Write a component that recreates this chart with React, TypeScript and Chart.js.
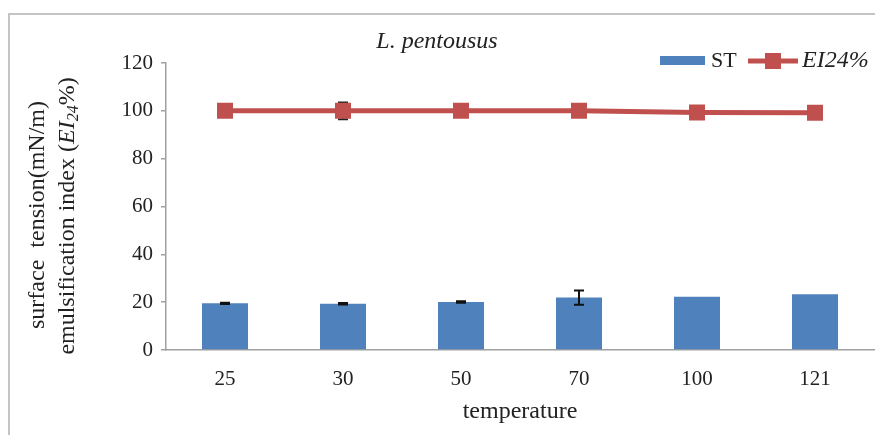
import React, { useEffect, useRef } from 'react';
import { Chart, registerables } from 'chart.js';

Chart.register(...registerables);

const categories = ['25', '30', '50', '70', '100', '121'];
const stValues = [19.5, 19.3, 20.1, 21.9, 22.3, 23.3];
const stErrors = [0.3, 0.3, 0.3, 3.0, 0, 0];
const eiValues = [100, 100, 100, 100, 99.3, 99.2];
const eiErrors = [0, 3.5, 0, 0, 0, 0];
const yMin = 0;
const yMax = 120;
const yStep = 20;

const titleText = 'L. pentousus';
const xTitle = 'temperature';
const yTitleLine1 = 'surface  tension(mN/m)';
const yTitleLine2 = ['emulsification index (', 'EI', '24', '%)'];
const legendST = 'ST';
const legendEI = 'EI24%';

const BLUE = '#4F81BD';
const RED = '#C0504D';
const SERIF = '"Liberation Serif", "Times New Roman", serif';

function drawErr(ctx: any, y: any, x: number, v: number, e: number) {
  if (!e) return;
  const yt = y.getPixelForValue(v + e);
  const yb = y.getPixelForValue(v - e);
  ctx.beginPath();
  ctx.moveTo(x, yt);
  ctx.lineTo(x, yb);
  ctx.moveTo(x - 5, yt);
  ctx.lineTo(x + 5, yt);
  ctx.moveTo(x - 5, yb);
  ctx.lineTo(x + 5, yb);
  ctx.stroke();
}

const decorPlugin = {
  id: 'decor',
  beforeDraw(chart: any) {
    const ctx = chart.ctx;
    ctx.save();
    ctx.fillStyle = '#ffffff';
    ctx.fillRect(0, 0, chart.width, chart.height);
    ctx.strokeStyle = '#c4c4c4';
    ctx.lineWidth = 2;
    ctx.beginPath();
    ctx.moveTo(9, chart.height + 5);
    ctx.lineTo(9, 14);
    ctx.lineTo(chart.width + 5, 14);
    ctx.stroke();
    ctx.restore();
  },
  beforeDatasetDraw(chart: any, args: any) {
    if (args.index !== 0) return;
    const ctx = chart.ctx;
    const y = chart.scales.y;
    ctx.save();
    ctx.strokeStyle = '#222';
    ctx.lineWidth = 2;
    chart.getDatasetMeta(0).data.forEach((el: any, i: number) =>
      drawErr(ctx, y, el.x, eiValues[i], eiErrors[i])
    );
    ctx.restore();
  },
  afterDatasetDraw(chart: any, args: any) {
    if (args.index !== 1) return;
    const ctx = chart.ctx;
    const y = chart.scales.y;
    ctx.save();
    ctx.strokeStyle = '#111';
    ctx.lineWidth = 2;
    chart.getDatasetMeta(1).data.forEach((el: any, i: number) =>
      drawErr(ctx, y, el.x, stValues[i], stErrors[i])
    );
    ctx.restore();
  },
  afterDraw(chart: any) {
    const ctx = chart.ctx;
    ctx.save();
    ctx.fillStyle = '#222';
    // title
    ctx.font = `italic 24px ${SERIF}`;
    ctx.textAlign = 'center';
    ctx.textBaseline = 'middle';
    ctx.fillText(titleText, 437, 42);

    // legend
    ctx.fillStyle = BLUE;
    ctx.fillRect(660, 56, 45, 9);
    ctx.fillStyle = '#222';
    ctx.font = `22px ${SERIF}`;
    ctx.textAlign = 'left';
    ctx.fillText(legendST, 711, 61);
    ctx.strokeStyle = RED;
    ctx.lineWidth = 5;
    ctx.beginPath();
    ctx.moveTo(748, 61);
    ctx.lineTo(798, 61);
    ctx.stroke();
    ctx.fillStyle = RED;
    ctx.fillRect(765, 53, 16, 16);
    ctx.fillStyle = '#222';
    ctx.font = `italic 24px ${SERIF}`;
    ctx.fillText(legendEI, 802, 61);

    // y title (rotated)
    ctx.save();
    ctx.translate(38, 215);
    ctx.rotate(-Math.PI / 2);
    ctx.font = `24px ${SERIF}`;
    ctx.textAlign = 'center';
    ctx.fillText(yTitleLine1, 0, 0);
    ctx.restore();

    ctx.save();
    ctx.translate(68, 216);
    ctx.rotate(-Math.PI / 2);
    const fN = `24px ${SERIF}`;
    const fI = `italic 24px ${SERIF}`;
    const fS = `italic 16px ${SERIF}`;
    ctx.textAlign = 'left';
    ctx.font = fN;
    const w0 = ctx.measureText(yTitleLine2[0]).width;
    ctx.font = fI;
    const w1 = ctx.measureText(yTitleLine2[1]).width;
    ctx.font = fS;
    const w2 = ctx.measureText(yTitleLine2[2]).width;
    ctx.font = fN;
    const w3 = ctx.measureText(yTitleLine2[3]).width;
    let x = -(w0 + w1 + w2 + w3) / 2;
    ctx.font = fN;
    ctx.fillText(yTitleLine2[0], x, 0);
    x += w0;
    ctx.font = fI;
    ctx.fillText(yTitleLine2[1], x, 0);
    x += w1;
    ctx.font = fS;
    ctx.fillText(yTitleLine2[2], x, 6);
    x += w2;
    ctx.font = fN;
    ctx.fillText(yTitleLine2[3], x, 0);
    ctx.restore();

    ctx.restore();
  },
};

export default function App() {
  const ref = useRef<HTMLCanvasElement | null>(null);
  useEffect(() => {
    document.body.style.margin = '0';
    const canvas = ref.current;
    if (!canvas) return;
    const chart = new Chart(canvas, {
      type: 'bar',
      data: {
        labels: categories,
        datasets: [
          {
            type: 'line',
            label: legendEI,
            data: eiValues,
            borderColor: RED,
            backgroundColor: RED,
            borderWidth: 5,
            pointStyle: 'rect',
            pointRadius: 11.3,
            pointBorderWidth: 0,
            pointBackgroundColor: RED,
            order: 0,
          } as any,
          {
            type: 'bar',
            label: legendST,
            data: stValues,
            backgroundColor: BLUE,
            barPercentage: 0.39,
            categoryPercentage: 1,
            order: 1,
          },
        ],
      },
      options: {
        responsive: false,
        animation: false,
        events: [],
        layout: { autoPadding: false, padding: { top: 63, right: 1, left: 0, bottom: 0 } },
        plugins: {
          legend: { display: false },
          title: { display: false },
          tooltip: { enabled: false },
        },
        scales: {
          x: {
            offset: true,
            grid: { display: false, drawTicks: false },
            border: { display: true, color: '#a0a0a0', width: 1.5 },
            ticks: {
              padding: 17,
              color: '#222',
              font: { family: SERIF, size: 21 },
            },
            title: {
              display: true,
              text: xTitle,
              color: '#222',
              font: { family: SERIF, size: 24 },
              padding: { top: 0, bottom: 9 },
            },
            afterFit(scale: any) {
              scale.height = 85;
            },
          },
          y: {
            min: yMin,
            max: yMax,
            ticks: {
              stepSize: yStep,
              padding: 8,
              color: '#222',
              font: { family: SERIF, size: 21 },
            },
            grid: {
              drawOnChartArea: false,
              drawTicks: true,
              tickLength: 5,
              color: '#a0a0a0',
              lineWidth: 1.5,
            },
            border: { display: true, color: '#a0a0a0', width: 1.5 },
            afterFit(scale: any) {
              scale.width = 166;
            },
          },
        },
      } as any,
      plugins: [decorPlugin],
    });
    return () => chart.destroy();
  }, []);
  return <canvas ref={ref} width={875} height={435} style={{ display: 'block' }} />;
}
